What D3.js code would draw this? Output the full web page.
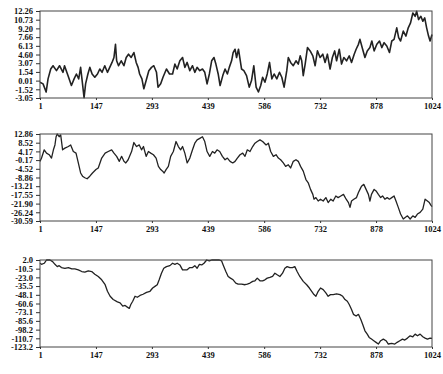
<!DOCTYPE html>
<html>
<head>
<meta charset="utf-8">
<style>
	body{ margin:0; background:#fff; }
	svg{ display:block; background:#fff; }
	.axis path, .axis line{ stroke:#333; }
	.axis text{ fill:#111; font-family:"Liberation Serif", serif; font-size:8.5px; font-weight:bold; }
	.frame{ fill:none; stroke:#444; stroke-width:1px; }
	.series{ fill:none; stroke:#222; stroke-width:1.3px; stroke-linejoin:round; }
	.noisy{ stroke-width:1.6px; }
</style>
<script src="https://d3js.org/d3.v7.min.js"></script>
</head>
<body>
<div id="chart"></div>
<script>
// x labels shared by the three panels
var xTicks = [1, 147, 293, 439, 586, 732, 878, 1024];

// y tick labels, top to bottom
var yLabels1 = ['12.26','10.73','9.20','7.66','6.13','4.60','3.07','1.54','0.01','-1.52','-3.05'];
var yLabels2 = ['12.86','8.52','4.17','-0.17','-4.52','-8.86','-13.21','-17.55','-21.90','-26.24','-30.59'];
var yLabels3 = ['2.0','-10.5','-23.0','-35.5','-48.1','-60.6','-73.1','-85.6','-98.2','-110.7','-123.2'];

// [sample index, value]
var series1 = [[1,-0.27],[9,-0.56],[17,-2.0],[22,0.31],[29,2.05],[35,2.63],[44,1.76],[52,2.63],[61,1.47],[65,2.63],
	[74,0.89],[83,-0.85],[90,0.31],[96,1.18],[102,0.31],[107,2.34],[111,0.02],[116,-3.0],[120,-0.56],[126,1.18],
	[131,2.34],[137,1.18],[144,0.6],[151,1.18],[157,2.05],[163,1.47],[170,2.63],[177,1.47],[183,2.34],[189,3.21],
	[194,4.08],[198,6.4],[201,3.5],[206,2.63],[213,3.5],[220,2.63],[226,4.08],[232,4.66],[239,4.08],[246,4.95],
	[252,3.21],[257,2.34],[261,1.18],[267,0.31],[272,-1.43],[278,0.02],[285,1.76],[292,2.34],[298,2.63],[305,1.47],
	[309,-1.14],[316,-0.56],[322,0.6],[331,2.05],[339,1.18],[347,1.18],[353,2.92],[359,2.05],[366,3.5],[373,4.08],
	[379,2.34],[385,3.21],[392,1.76],[399,2.63],[405,1.47],[411,2.34],[418,1.76],[425,2.05],[431,1.47],[437,-0.56],
	[443,1.18],[449,3.5],[455,4.08],[460,2.92],[466,1.18],[471,-0.85],[478,0.89],[484,2.05],[490,1.18],[495,2.34],
	[501,3.5],[505,4.95],[510,5.53],[514,4.08],[519,5.53],[523,3.79],[527,2.05],[533,1.76],[540,0.89],[547,-1.14],
	[553,0.02],[559,2.63],[565,-1.14],[571,-2.0],[577,-0.85],[582,0.6],[588,-0.27],[594,1.18],[600,3.21],[606,0.31],
	[612,1.18],[619,0.31],[626,1.47],[632,0.6],[638,-1.14],[645,1.76],[649,4.08],[655,3.21],[662,2.63],[669,3.5],
	[675,2.92],[680,4.37],[684,3.5],[688,0.89],[693,2.92],[699,5.82],[706,5.24],[713,4.37],[719,2.63],[725,5.24],
	[732,4.08],[739,4.66],[745,3.21],[751,4.66],[758,2.05],[764,4.08],[770,5.24],[775,3.5],[782,5.53],[788,2.92],
	[794,4.08],[801,3.5],[808,4.37],[814,3.21],[821,4.66],[826,5.53],[832,6.4],[836,7.27],[843,5.53],[849,4.08],
	[855,5.24],[862,5.82],[867,6.98],[873,5.24],[880,6.4],[887,6.98],[893,5.82],[899,6.69],[906,6.11],[913,4.95],
	[919,6.98],[925,7.27],[932,9.3],[937,7.56],[942,6.98],[949,8.72],[956,7.85],[962,9.3],[968,10.17],[974,11.91],
	[980,11.33],[984,12.2],[989,10.75],[995,11.33],[1000,10.46],[1005,11.04],[1010,9.3],[1015,7.85],[1019,6.98],[1024,8.14]];

var series2 = [[1,-0.8],[5,0.84],[12,4.96],[18,3.3],[25,2.5],[31,0.84],[36,4.96],[40,7.4],[43,11.5],[46,12.86],
	[51,11.5],[55,12.4],[60,4.96],[66,5.8],[75,6.6],[81,7.4],[88,4.1],[95,3.3],[101,-1.6],[107,-6.6],
	[112,-8.2],[118,-9.0],[124,-9.5],[131,-8.2],[138,-6.6],[147,-4.9],[153,-4.1],[162,0.84],[171,3.3],[179,4.1],
	[188,4.96],[194,3.3],[201,1.7],[208,-0.8],[214,1.7],[220,-0.8],[225,-1.6],[231,0.0],[240,4.1],[246,8.6],
	[253,6.6],[260,7.4],[266,4.96],[271,6.6],[278,1.7],[284,4.1],[290,3.3],[297,2.5],[304,0.84],[310,-3.3],
	[316,-4.9],[321,-5.7],[325,-6.6],[330,-4.9],[336,-3.3],[342,1.7],[349,4.1],[356,9.1],[362,6.6],[368,4.96],
	[373,6.6],[379,3.3],[385,-1.6],[392,0.84],[399,4.96],[405,8.25],[411,9.9],[418,10.7],[425,11.5],[431,9.1],
	[437,4.1],[444,1.7],[451,4.1],[457,3.3],[463,4.96],[470,4.1],[477,1.7],[484,0.0],[490,0.84],[497,-0.8],
	[504,-1.6],[510,-0.8],[516,0.84],[523,2.5],[530,3.3],[536,1.7],[542,4.96],[549,4.1],[556,6.6],[562,8.25],
	[568,9.1],[575,9.9],[582,9.1],[591,7.4],[597,8.25],[603,4.1],[610,1.7],[617,2.5],[623,0.84],[629,0.0],
	[636,-1.6],[642,-3.3],[649,-2.5],[655,-4.1],[662,-0.8],[669,0.0],[675,-0.8],[681,-3.3],[688,-5.7],[695,-9.9],
	[701,-11.5],[707,-14.8],[713,-17.3],[716,-19.7],[721,-18.9],[727,-20.6],[733,-19.7],[740,-20.6],[747,-18.9],[753,-21.4],
	[760,-19.7],[766,-20.6],[773,-18.1],[779,-18.9],[786,-18.1],[793,-17.3],[800,-19.7],[806,-21.4],[810,-23.8],[814,-20.6],
	[820,-19.7],[827,-18.9],[832,-16.4],[836,-14.8],[840,-13.2],[846,-12.3],[852,-14.8],[858,-17.3],[862,-20.6],[866,-17.3],
	[873,-14.8],[878,-15.6],[884,-17.3],[890,-18.9],[895,-18.1],[901,-19.7],[907,-18.9],[913,-19.7],[919,-18.9],[925,-18.1],
	[930,-20.6],[936,-23.8],[942,-27.1],[949,-29.6],[954,-28.8],[960,-28.0],[967,-29.6],[974,-28.0],[980,-28.8],[986,-27.1],
	[993,-26.3],[1000,-24.7],[1006,-19.7],[1012,-20.6],[1017,-21.4],[1021,-22.7],[1024,-23.4]];

var series3 = [[1,-2.7],[5,-4.2],[12,-2.7],[18,2.0],[27,2.0],[34,-0.4],[40,-4.2],[46,-7.5],[51,-6.1],[57,-8.9],
	[66,-9.9],[75,-8.9],[84,-10.8],[92,-10.8],[101,-12.2],[110,-14.6],[118,-15.5],[127,-13.6],[136,-14.6],[144,-18.4],
	[153,-21.7],[162,-26.5],[171,-33.6],[177,-43.0],[184,-50.2],[192,-54.9],[203,-58.2],[210,-59.6],[217,-64.4],[223,-63.4],
	[229,-65.8],[234,-67.7],[238,-62.0],[243,-57.3],[249,-50.2],[255,-51.6],[262,-49.0],[270,-47.3],[279,-44.5],[288,-43.0],
	[295,-38.3],[301,-36.0],[307,-33.6],[312,-26.5],[318,-17.0],[324,-9.9],[331,-7.5],[340,-6.1],[347,-2.7],[353,-4.2],
	[359,-2.7],[366,-5.1],[373,-12.2],[379,-12.2],[385,-12.2],[392,-8.9],[399,-8.9],[405,-6.1],[411,-9.9],[417,-4.2],
	[423,-5.1],[429,-2.7],[436,2.0],[443,0.6],[449,2.0],[455,2.0],[462,2.0],[469,2.0],[475,0.6],[479,-5.1],
	[486,-14.6],[492,-21.7],[498,-24.1],[505,-26.5],[512,-31.2],[518,-32.6],[527,-32.6],[536,-33.6],[542,-32.6],[549,-31.2],
	[556,-28.8],[562,-27.9],[568,-24.1],[575,-27.9],[582,-27.9],[588,-26.5],[594,-24.1],[601,-23.1],[608,-21.7],[614,-17.0],
	[620,-19.3],[627,-21.7],[634,-17.0],[640,-9.9],[646,-7.5],[653,-8.9],[660,-9.0],[666,-7.5],[672,-14.6],[679,-21.7],
	[688,-28.8],[697,-33.6],[704,-38.3],[710,-43.0],[716,-47.8],[721,-50.2],[727,-43.0],[733,-38.3],[740,-40.7],[747,-45.4],
	[753,-50.2],[759,-47.8],[766,-47.8],[775,-46.8],[784,-47.8],[791,-50.2],[797,-54.9],[803,-57.3],[808,-62.0],[814,-69.1],
	[819,-76.2],[826,-78.6],[832,-76.2],[838,-83.3],[843,-90.5],[849,-99.9],[855,-104.7],[860,-109.4],[866,-111.8],[872,-114.2],
	[878,-116.5],[884,-118.9],[890,-114.2],[897,-111.8],[904,-114.2],[910,-118.9],[919,-118.0],[927,-118.9],[933,-116.5],[940,-114.2],
	[947,-111.8],[953,-113.2],[960,-110.4],[967,-107.1],[974,-108.5],[980,-104.7],[986,-107.1],[993,-104.7],[1000,-108.5],[1006,-110.4],
	[1012,-111.8],[1019,-110.4],[1024,-110.9]];

var width = 443, height = 374;
var left = 40, right = 432, panelH = 87;

var svg = d3.select('#chart')
	.append('svg')
	.attr('width', width)
	.attr('height', height);

var xScale = d3.scaleLinear()
	.domain([1, 1024])
	.range([left, right]);

function drawPanel(top, labels, data, cls){
	var nums = labels.map(Number);
	var yScale = d3.scaleLinear()
		.domain([d3.min(nums), d3.max(nums)])
		.range([top + panelH, top]);

	var g = svg.append('g');

	g.append('path')
		.datum(data)
		.attr('class', 'series ' + cls)
		.attr('d', d3.line()
			.x(function(d){ return xScale(d[0]); })
			.y(function(d){ return yScale(d[1]); }));

	g.append('rect')
		.attr('class', 'frame')
		.attr('x', left)
		.attr('y', top)
		.attr('width', right - left)
		.attr('height', panelH);

	var yAxis = d3.axisLeft(yScale)
		.tickValues(nums)
		.tickFormat(function(d, i){ return labels[i]; })
		.tickSize(4)
		.tickPadding(3);
	g.append('g')
		.attr('class', 'axis')
		.attr('transform', 'translate(' + left + ',0)')
		.call(yAxis);

	var xAxis = d3.axisBottom(xScale)
		.tickValues(xTicks)
		.tickFormat(d3.format('d'))
		.tickSize(2)
		.tickPadding(3);
	g.append('g')
		.attr('class', 'axis')
		.attr('transform', 'translate(0,' + (top + panelH) + ')')
		.call(xAxis);

	g.selectAll('.domain').remove();
}

drawPanel(11, yLabels1, series1, 'noisy');
drawPanel(134, yLabels2, series2, '');
drawPanel(260, yLabels3, series3, '');
</script>
</body>
</html>
